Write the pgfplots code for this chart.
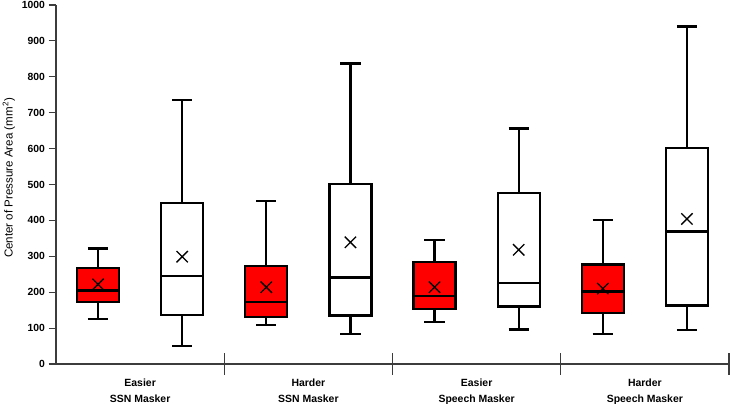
\documentclass[border=0pt]{standalone}
\usepackage{pgfplots}
\pgfplotsset{compat=1.18}
\usepackage{fontspec}
\setmainfont{Liberation Sans}
\definecolor{axgray}{RGB}{60,60,60}
\begin{document}
\begin{tikzpicture}
\begin{axis}[
  scale only axis,
  width=673bp, height=359bp,
  xmin=0, xmax=8, ymin=0, ymax=1000,
  axis x line=bottom, axis y line=left,
  axis line style={-, line width=1.2bp, draw=axgray},
  ytick={0,100,200,300,400,500,600,700,800,900,1000},
  /pgf/number format/assume math mode=true,
  /pgf/number format/1000 sep={},
  tick align=outside, major tick length=7.5bp,
  tick style={line width=1.2bp, draw=axgray},
  yticklabel style={font=\bfseries\fontsize{10.4}{12}\selectfont},
  xtick={1,3,5,7},
  xticklabels={{Easier\\SSN Masker},{Harder\\SSN Masker},{Easier\\Speech Masker},{Harder\\Speech Masker}},
  xtick style={draw=none},
  extra x ticks={2,4,6,8},
  extra x tick labels={},
  extra x tick style={tick align=center, major tick length=21bp, xtick style={draw=axgray}},
  xticklabel style={align=center, font=\bfseries\fontsize{10.5}{15.5}\selectfont, yshift=-4bp},
  ylabel={Center of Pressure Area (mm\textsuperscript{2})},
  ylabel style={at={(ticklabel cs:0.518)}, font=\fontsize{11.6}{13}\selectfont},
  unbounded coords=jump,
  clip=false,
]
% whiskers and caps
\addplot[draw=black, line width=2.2bp, mark=none] coordinates {
 (0.5,268) (0.5,322) (0.38,nan) (0.38,322) (0.62,322) (0.5,nan) (0.5,172) (0.5,125) (0.38,nan) (0.38,125) (0.62,125) (1,nan)
 (1.5,448) (1.5,736) (1.38,nan) (1.38,736) (1.62,736) (1.5,nan) (1.5,136) (1.5,51) (1.38,nan) (1.38,51) (1.62,51) (2,nan)
 (2.5,274) (2.5,455) (2.38,nan) (2.38,455) (2.62,455) (2.5,nan) (2.5,130) (2.5,108) (2.38,nan) (2.38,108) (2.62,108) (3,nan)
 (3.5,502) (3.5,837) (3.38,nan) (3.38,837) (3.62,837) (3.5,nan) (3.5,135) (3.5,83) (3.38,nan) (3.38,83) (3.62,83) (4,nan)
 (4.5,284) (4.5,346) (4.38,nan) (4.38,346) (4.62,346) (4.5,nan) (4.5,153) (4.5,117) (4.38,nan) (4.38,117) (4.62,117) (5,nan)
 (5.5,476) (5.5,656) (5.38,nan) (5.38,656) (5.62,656) (5.5,nan) (5.5,160) (5.5,96) (5.38,nan) (5.38,96) (5.62,96) (6,nan)
 (6.5,277) (6.5,402) (6.38,nan) (6.38,402) (6.62,402) (6.5,nan) (6.5,143) (6.5,84) (6.38,nan) (6.38,84) (6.62,84) (7,nan)
 (7.5,602) (7.5,940) (7.38,nan) (7.38,940) (7.62,940) (7.5,nan) (7.5,163) (7.5,94) (7.38,nan) (7.38,94) (7.62,94)
};
% boxes (lower quartile to upper quartile)
\addplot[fill=red, draw=black, line width=2.2bp, mark=none] coordinates {(0.25,172) (0.75,172) (0.75,268) (0.25,268)} -- cycle;
\addplot[fill=white, draw=black, line width=2.2bp, mark=none] coordinates {(1.25,136) (1.75,136) (1.75,448) (1.25,448)} -- cycle;
\addplot[fill=red, draw=black, line width=2.2bp, mark=none] coordinates {(2.25,130) (2.75,130) (2.75,274) (2.25,274)} -- cycle;
\addplot[fill=white, draw=black, line width=2.2bp, mark=none] coordinates {(3.25,135) (3.75,135) (3.75,502) (3.25,502)} -- cycle;
\addplot[fill=red, draw=black, line width=2.2bp, mark=none] coordinates {(4.25,153) (4.75,153) (4.75,284) (4.25,284)} -- cycle;
\addplot[fill=white, draw=black, line width=2.2bp, mark=none] coordinates {(5.25,160) (5.75,160) (5.75,476) (5.25,476)} -- cycle;
\addplot[fill=red, draw=black, line width=2.2bp, mark=none] coordinates {(6.25,143) (6.75,143) (6.75,277) (6.25,277)} -- cycle;
\addplot[fill=white, draw=black, line width=2.2bp, mark=none] coordinates {(7.25,163) (7.75,163) (7.75,602) (7.25,602)} -- cycle;
% medians
\addplot[draw=black, line width=2.2bp, mark=none] coordinates {
 (0.25,205) (0.75,205) (1,nan) (1.25,246) (1.75,246) (2,nan) (2.25,173) (2.75,173) (3,nan) (3.25,241) (3.75,241) (4,nan)
 (4.25,189) (4.75,189) (5,nan) (5.25,226) (5.75,226) (6,nan) (6.25,202) (6.75,202) (7,nan) (7.25,369) (7.75,369)
};
% means
\addplot[only marks, mark=x, mark size=8bp, mark options={draw=black, line width=1.3bp}] coordinates {
 (0.5,222) (1.5,299) (2.5,214) (3.5,339) (4.5,214) (5.5,318) (6.5,210) (7.5,404)
};
\end{axis}
\pgfresetboundingbox
\useasboundingbox (-56bp,-40bp) rectangle (675bp,364bp);
\end{tikzpicture}
\end{document}
